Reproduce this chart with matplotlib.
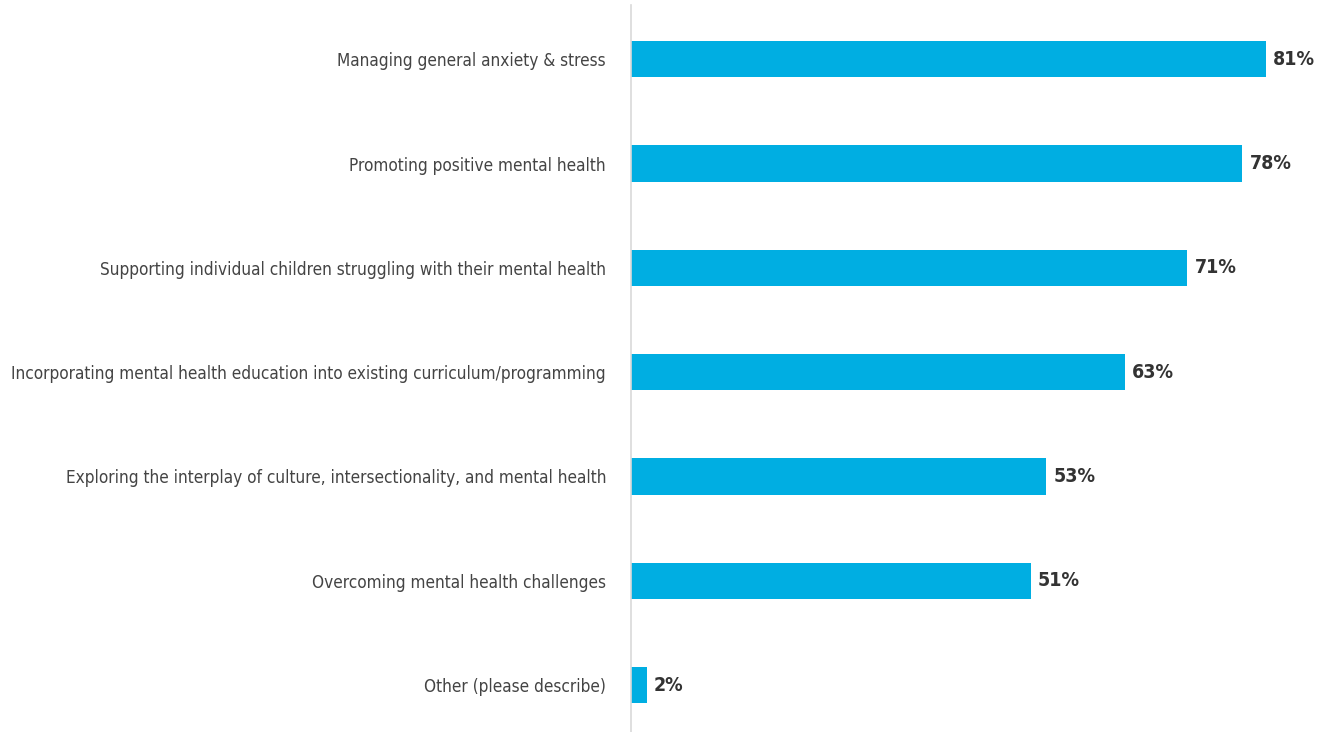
import matplotlib
matplotlib.use("Agg")
import matplotlib.pyplot as plt
from matplotlib import font_manager as fm

categories = [
    "Managing general anxiety & stress",
    "Promoting positive mental health",
    "Supporting individual children struggling with their mental health",
    "Incorporating mental health education into existing curriculum/programming",
    "Exploring the interplay of culture, intersectionality, and mental health",
    "Overcoming mental health challenges",
    "Other (please describe)",
]
values = [81, 78, 71, 63, 53, 51, 2]
value_labels = ["81%", "78%", "71%", "63%", "53%", "51%", "2%"]

names = {f.name for f in fm.fontManager.ttflist}
if "Liberation Sans Narrow" in names:
    fam = "Liberation Sans Narrow"
    stretch = "normal"
else:
    fam = "DejaVu Sans"
    stretch = "condensed"

fig = plt.figure(figsize=(13.27, 7.32), dpi=100)
ax = fig.add_axes([631/1327, 0.0, 1 - 631/1327, 1 - 5/732])

ypos = list(range(len(categories)))
ax.barh(ypos, values, height=0.35, color="#00AEE2")
ax.set_xlim(0, 88.8)
ax.set_ylim(6.45, -0.52)

for y, v, lab in zip(ypos, values, value_labels):
    ax.text(v + 0.9, y, lab, va="center", ha="left", fontsize=14,
            fontweight="bold", color="#333333", family=fam, stretch=stretch)

ax.set_yticks(ypos)
ax.set_yticklabels(categories, fontsize=12.3, color="#444444", family=fam, stretch=stretch)
ax.tick_params(axis="y", length=0, pad=18)
ax.set_xticks([])
for s in ["top", "right", "bottom"]:
    ax.spines[s].set_visible(False)
ax.spines["left"].set_color("#d9d9d9")
ax.spines["left"].set_linewidth(1.2)

fig.savefig("out.png", dpi=100)
